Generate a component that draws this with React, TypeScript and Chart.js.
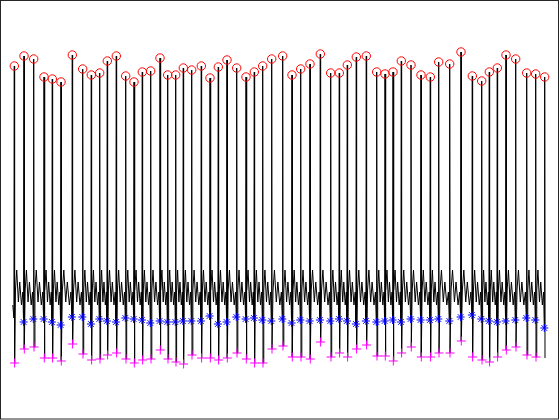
import React, { useEffect, useRef } from "react";
import { Chart, registerables } from "chart.js";

Chart.register(...registerables);

// R-peak sample positions (samples) and amplitudes (mV)
const rPeakSamples = [143, 240, 337, 440, 523, 610, 723, 827, 913, 997, 1073, 1163, 1257, 1340, 1423, 1507, 1600, 1677, 1757, 1833, 1917, 2013, 2100, 2183, 2270, 2367, 2460, 2543, 2627, 2717, 2827, 2920, 3007, 3100, 3203, 3307, 3393, 3473, 3563, 3663, 3767, 3850, 3930, 4013, 4110, 4210, 4303, 4387, 4497, 4610, 4723, 4817, 4893, 4973, 5060, 5157, 5267, 5357, 5447];
const rPeakValues = [2.64, 2.74, 2.71, 2.53, 2.51, 2.48, 2.75, 2.61, 2.55, 2.57, 2.69, 2.74, 2.54, 2.48, 2.58, 2.59, 2.72, 2.55, 2.55, 2.62, 2.60, 2.64, 2.52, 2.63, 2.70, 2.62, 2.53, 2.58, 2.64, 2.71, 2.74, 2.55, 2.61, 2.66, 2.76, 2.57, 2.57, 2.65, 2.73, 2.74, 2.58, 2.56, 2.58, 2.69, 2.65, 2.55, 2.53, 2.68, 2.66, 2.78, 2.54, 2.49, 2.58, 2.62, 2.75, 2.71, 2.57, 2.56, 2.53];
// Q-point values (beats 2..59)
const qValues = [0.08, 0.11, 0.11, 0.08, 0.05, 0.13, 0.13, 0.06, 0.11, 0.09, 0.08, 0.12, 0.11, 0.10, 0.07, 0.09, 0.08, 0.08, 0.09, 0.09, 0.09, 0.14, 0.06, 0.08, 0.13, 0.11, 0.12, 0.10, 0.09, 0.11, 0.07, 0.10, 0.09, 0.10, 0.09, 0.11, 0.09, 0.06, 0.09, 0.08, 0.09, 0.10, 0.08, 0.11, 0.10, 0.10, 0.11, 0.09, 0.13, 0.15, 0.11, 0.09, 0.08, 0.09, 0.10, 0.12, 0.10, 0.02];
// S-point values (beats 1..58)
const sValues = [-0.33, -0.19, -0.17, -0.28, -0.28, -0.31, -0.14, -0.24, -0.30, -0.29, -0.25, -0.23, -0.29, -0.33, -0.30, -0.29, -0.20, -0.29, -0.32, -0.34, -0.25, -0.28, -0.28, -0.30, -0.28, -0.23, -0.29, -0.33, -0.33, -0.19, -0.16, -0.27, -0.27, -0.29, -0.12, -0.27, -0.23, -0.27, -0.19, -0.15, -0.26, -0.26, -0.31, -0.23, -0.17, -0.27, -0.27, -0.23, -0.23, -0.11, -0.27, -0.30, -0.32, -0.27, -0.20, -0.17, -0.25, -0.27];
const lastSValue = -0.28;
const startValue = 0.25;
// inter-beat wave (fraction of RR interval, mV)
const waveFraction = [0.12, 0.25, 0.42, 0.56, 0.74, 0.88];
const waveValue = [0.40, 0.60, 0.28, 0.48, 0.25, 0.38];

const Q_OFFSET = -4;
const S_OFFSET = 3;

function buildSignal() {
  const pts: { x: number; y: number }[] = [];
  const n = rPeakSamples.length;
  for (let i = 0; i < n; i++) {
    const r = rPeakSamples[i];
    if (i === 0) {
      pts.push({ x: r - 15, y: startValue });
      pts.push({ x: r + Q_OFFSET, y: 0.12 });
    } else {
      pts.push({ x: r + Q_OFFSET, y: qValues[i - 1] });
    }
    pts.push({ x: r, y: rPeakValues[i] });
    pts.push({ x: r + S_OFFSET, y: i < sValues.length ? sValues[i] : lastSValue });
    if (i < n - 1) {
      const d = rPeakSamples[i + 1] - r;
      for (let k = 0; k < waveFraction.length; k++) {
        pts.push({ x: r + waveFraction[k] * d, y: waveValue[k] });
      }
    }
  }
  return pts;
}

const borderPlugin = {
  id: "boxBorder",
  afterDraw(chart: any) {
    const { ctx, chartArea } = chart;
    ctx.save();
    ctx.strokeStyle = "#262626";
    ctx.lineWidth = 1;
    ctx.strokeRect(chartArea.left + 0.5, chartArea.top + 0.5, chartArea.right - chartArea.left - 2, chartArea.bottom - chartArea.top - 1.5);
    ctx.restore();
  },
};

export default function App() {
  const ref = useRef<HTMLCanvasElement | null>(null);
  useEffect(() => {
    if (!ref.current) return;
    const chart = new Chart(ref.current, {
      type: "line",
      data: {
        datasets: [
          {
            label: "R",
            data: rPeakSamples.map((x, i) => ({ x, y: rPeakValues[i] })),
            showLine: false,
            pointStyle: "circle",
            pointRadius: 4.2,
            pointBorderColor: "#ff0000",
            pointBackgroundColor: "rgba(0,0,0,0)",
            pointBorderWidth: 1,
          },
          {
            label: "Q",
            data: qValues.map((y, i) => ({ x: rPeakSamples[i + 1] + Q_OFFSET, y })),
            showLine: false,
            pointStyle: "star",
            pointRadius: 4,
            pointBorderColor: "#0000ff",
            pointBackgroundColor: "#0000ff",
            pointBorderWidth: 1,
          },
          {
            label: "S",
            data: sValues.map((y, i) => ({ x: rPeakSamples[i] + S_OFFSET, y })),
            showLine: false,
            pointStyle: "cross",
            pointRadius: 4.5,
            pointBorderColor: "#ff00ff",
            pointBackgroundColor: "#ff00ff",
            pointBorderWidth: 1,
          },
          {
            label: "signal",
            data: buildSignal(),
            borderColor: "#000000",
            borderWidth: 1,
            pointRadius: 0,
            tension: 0,
            fill: false,
          },
        ],
      },
      options: {
        responsive: false,
        animation: false,
        parsing: true,
        layout: { padding: 0, autoPadding: false },
        plugins: { legend: { display: false }, tooltip: { enabled: false } },
        scales: {
          x: { type: "linear", min: 0, max: 5600, display: false },
          y: { type: "linear", min: -0.9, max: 3.3, display: false },
        },
      },
      plugins: [borderPlugin],
    });
    return () => chart.destroy();
  }, []);
  return (
    <div style={{ position: "fixed", left: 0, top: 0, width: 560, height: 420, background: "#fff" }}>
      <canvas ref={ref} width={560} height={420} />
    </div>
  );
}
